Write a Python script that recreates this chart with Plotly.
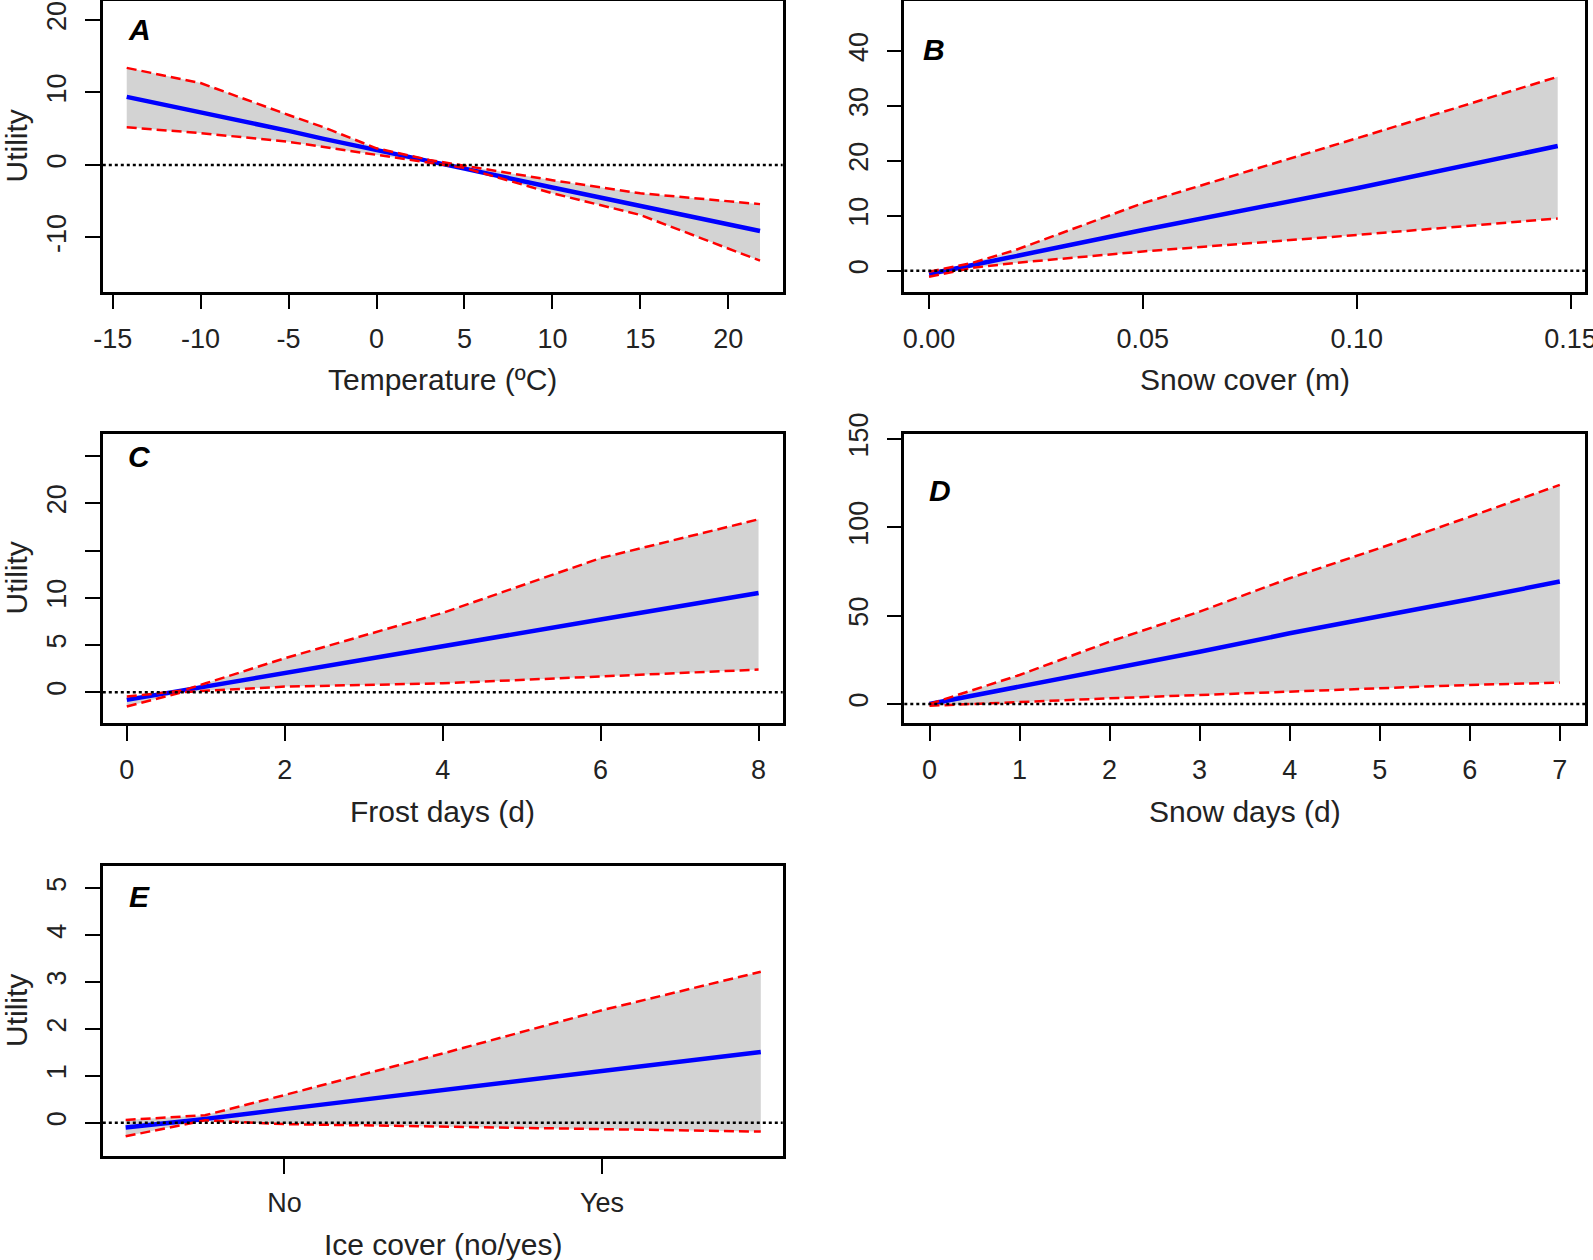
import plotly.graph_objects as go

W, H = 1593, 1260

# panel A - temperature
temp_x = [-14.2, -10, -5, -3, 0, 3, 5, 10, 15, 21.8]
temp_fit = [9.4, 7.3, 4.7, 3.6, 2.1, 0.5, -0.5, -3.1, -5.6, -9.1]
temp_hi = [13.4, 11.3, 6.9, 5.2, 2.3, 0.7, -0.1, -2.1, -3.9, -5.4]
temp_lo = [5.2, 4.4, 3.2, 2.5, 1.4, 0.3, -0.4, -3.9, -6.9, -13.2]

# panel B - snow cover
snowc_x = [0.0, 0.01, 0.02, 0.05, 0.10, 0.147]
snowc_fit = [-0.6, 1.0, 2.5, 7.4, 15.0, 22.7]
snowc_hi = [-0.2, 1.4, 3.7, 12.3, 24.1, 35.3]
snowc_lo = [-1.1, 0.5, 1.4, 3.5, 6.5, 9.5]

# panel C - frost days
frost_x = [0, 0.7, 1, 2, 4, 6, 8]
frost_fit = [-0.8, 0.2, 0.6, 2.0, 4.8, 7.7, 10.5]
frost_hi = [-0.45, 0.17, 0.95, 3.6, 8.4, 14.2, 18.3]
frost_lo = [-1.5, 0.0, 0.17, 0.6, 0.95, 1.7, 2.4]

# panel D - snow days
snowd_x = [0, 1, 2, 3, 4, 5, 6, 7]
snowd_fit = [0, 9.8, 19.3, 29.6, 40.0, 49.4, 59.3, 69.3]
snowd_hi = [0, 16.4, 35.3, 52.3, 71.2, 88.2, 106.0, 124.0]
snowd_lo = [-1, 1.3, 3.2, 5.1, 7.0, 8.9, 10.8, 12.1]

# panel E - ice cover
ice_x = [0.5, 0.75, 1, 1.5, 2, 2.5]
ice_fit = [-0.1, 0.08, 0.29, 0.7, 1.1, 1.51]
ice_hi = [0.06, 0.16, 0.59, 1.48, 2.4, 3.22]
ice_lo = [-0.29, 0.05, -0.03, -0.08, -0.14, -0.19]

temp_ticks = [-15, -10, -5, 0, 5, 10, 15, 20]
snowc_ticks = [0.0, 0.05, 0.10, 0.15]
snowc_labels = ["0.00", "0.05", "0.10", "0.15"]
frost_ticks = [0, 2, 4, 6, 8]
snowd_ticks = [0, 1, 2, 3, 4, 5, 6, 7]
ice_ticks = [1, 2]
ice_labels = ["No", "Yes"]

FONT = "Arial, Liberation Sans, sans-serif"


def fx(p):
    return p / W


def fy(p):
    return 1 - p / H


# box positions in pixels: (left, right) and (top, bottom)
col1 = (102.8, 782.7)
col2 = (904.3, 1585.0)
row1 = (1.3, 291.7)
row2 = (434.0, 723.0)
row3 = (866.0, 1156.0)

panels = [
    dict(x=temp_x, fit=temp_fit, hi=temp_hi, lo=temp_lo, col=col1, row=row1,
         xr=[-15.56, 23.09], yr=[-17.48, 22.58],
         xt=temp_ticks, xl=[str(v) for v in temp_ticks],
         yt=[-10, 0, 10, 20], yl=["-10", "0", "10", "20"],
         title="Temperature (ºC)", util=True, letter="A", lpos=(139, 29)),
    dict(x=snowc_x, fit=snowc_fit, hi=snowc_hi, lo=snowc_lo, col=col2, row=row1,
         xr=[-0.00578, 0.15338], yr=[-3.83, 49.05],
         xt=snowc_ticks, xl=snowc_labels,
         yt=[0, 10, 20, 30, 40], yl=["0", "10", "20", "30", "40"],
         title="Snow cover (m)", util=False, letter="B", lpos=(934, 50)),
    dict(x=frost_x, fit=frost_fit, hi=frost_hi, lo=frost_lo, col=col1, row=row2,
         xr=[-0.304, 8.306], yr=[-3.25, 27.33],
         xt=frost_ticks, xl=[str(v) for v in frost_ticks],
         yt=[0, 5, 10, 15, 20, 25], yl=["0", "5", "10", "", "20", ""],
         title="Frost days (d)", util=True, letter="C", lpos=(139, 456.5)),
    dict(x=snowd_x, fit=snowd_fit, hi=snowd_hi, lo=snowd_lo, col=col2, row=row2,
         xr=[-0.28, 7.28], yr=[-10.75, 152.8],
         xt=snowd_ticks, xl=[str(v) for v in snowd_ticks],
         yt=[0, 50, 100, 150], yl=["0", "50", "100", "150"],
         title="Snow days (d)", util=False, letter="D", lpos=(940, 491)),
    dict(x=ice_x, fit=ice_fit, hi=ice_hi, lo=ice_lo, col=col1, row=row3,
         xr=[0.428, 2.569], yr=[-0.71, 5.476],
         xt=ice_ticks, xl=ice_labels,
         yt=[0, 1, 2, 3, 4, 5], yl=["0", "1", "2", "3", "4", "5"],
         title="Ice cover (no/yes)", util=True, letter="E", lpos=(139, 896.5)),
]

fig = go.Figure()
shapes = []
annotations = []

for i, p in enumerate(panels, start=1):
    sx = "" if i == 1 else str(i)
    xa, ya = "x" + sx, "y" + sx
    # confidence band
    fig.add_trace(go.Scatter(x=p["x"], y=p["lo"], mode="lines", line=dict(width=0),
                             xaxis=xa, yaxis=ya, showlegend=False, hoverinfo="skip"))
    fig.add_trace(go.Scatter(x=p["x"], y=p["hi"], mode="lines", line=dict(width=0),
                             fill="tonexty", fillcolor="#d3d3d3",
                             xaxis=xa, yaxis=ya, showlegend=False, hoverinfo="skip"))
    fig.add_trace(go.Scatter(x=p["x"], y=p["fit"], mode="lines",
                             line=dict(color="#0000ff", width=4.5),
                             xaxis=xa, yaxis=ya, showlegend=False))
    for key in ("hi", "lo"):
        fig.add_trace(go.Scatter(x=p["x"], y=p[key], mode="lines",
                                 line=dict(color="#ff0000", width=2.5, dash="10px,5px"),
                                 xaxis=xa, yaxis=ya, showlegend=False))

    left, right = p["col"]
    top, bottom = p["row"]
    axis_common = dict(showgrid=False, zeroline=False, showline=True, mirror=True,
                       linecolor="black", linewidth=2.5, ticks="outside", ticklen=15,
                       tickwidth=2, tickcolor="black", automargin=False,
                       tickfont=dict(family=FONT, size=27, color="#222"))
    fig.update_layout(**{
        "xaxis" + sx: dict(axis_common, domain=[fx(left), fx(right)], range=p["xr"],
                           anchor=ya, tickvals=p["xt"], ticktext=p["xl"],
                           ticklabelstandoff=6, ticklabeloverflow="allow"),
        "yaxis" + sx: dict(axis_common, domain=[fy(bottom), fy(top)], range=p["yr"],
                           anchor=xa, tickvals=p["yt"], ticktext=p["yl"],
                           tickangle=-90, ticklabelstandoff=8),
    })
    shapes.append(dict(type="line", xref=xa + " domain", yref=ya, x0=0, x1=1, y0=0, y1=0,
                       line=dict(color="black", width=2.5, dash="3px,3px"), layer="above"))
    annotations.append(dict(text=p["title"], xref="paper", yref="paper",
                            x=fx((left + right) / 2), y=fy(bottom + 88), showarrow=False,
                            xanchor="center", yanchor="middle",
                            font=dict(family=FONT, size=30, color="#222")))
    if p["util"]:
        annotations.append(dict(text="Utility", xref="paper", yref="paper",
                                x=fx(16), y=fy((top + bottom) / 2), showarrow=False,
                                textangle=-90, xanchor="center", yanchor="middle",
                                font=dict(family=FONT, size=30, color="#222")))
    lx, ly = p["lpos"]
    annotations.append(dict(text="<b><i>" + p["letter"] + "</i></b>", xref="paper", yref="paper",
                            x=fx(lx), y=fy(ly), showarrow=False,
                            xanchor="center", yanchor="middle",
                            font=dict(family=FONT, size=30, color="black")))

fig.update_layout(width=W, height=H, margin=dict(l=0, r=0, t=0, b=0),
                  plot_bgcolor="white", paper_bgcolor="white",
                  shapes=shapes, annotations=annotations, showlegend=False)

# drop the page's default body margin so the figure fills the window exactly
fig.write_html("out.html", config={"displayModeBar": False},
               post_script="document.body.style.margin='0';")
